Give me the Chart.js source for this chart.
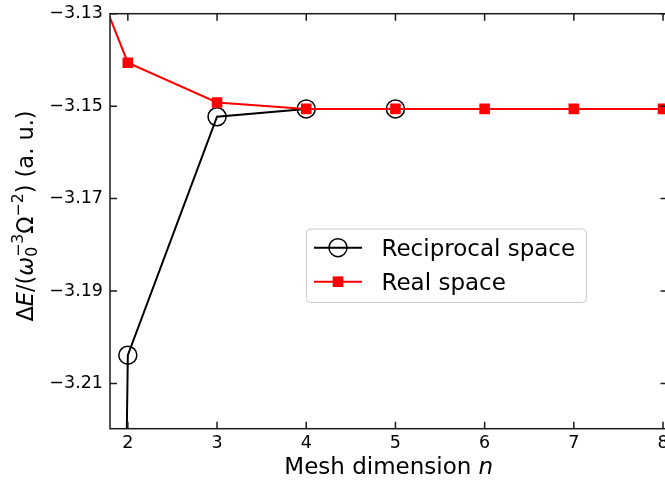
<!DOCTYPE html>
<html lang="en">
<head>
<meta charset="UTF-8" />
<title>Mesh convergence</title>
<script src="https://cdn.jsdelivr.net/npm/chart.js"></script>
<style>
	html, body {
		margin: 0;
		padding: 0;
		background: #fff;
		overflow: hidden;
	}
	#wrap {
		width: 680px;
		height: 481px;
	}
</style>
</head>
<body>
<div id="wrap"><canvas id="meshChart" width="680" height="481"></canvas></div>
<script>
// values
const meshN = [1, 2, 3, 4, 5, 6, 7, 8];
const reciprocalSpace = [-4.6, -3.2039, -3.1523, -3.1506, -3.1506];
const realSpace = [-3.092, -3.1406, -3.1492, -3.1506, -3.1506, -3.1506, -3.1506, -3.1506];
const xTicks = [2, 3, 4, 5, 6, 7, 8];
const yTicks = [-3.21, -3.19, -3.17, -3.15, -3.13];
const seriesNames = ["Reciprocal space", "Real space"];

const FONT = "'DejaVu Sans', sans-serif";
const INK = "#1a1a1a";

function toPoints(values) {
	return values.map((v, i) => ({ x: meshN[i], y: v }));
}

// y label with stacked sub/superscripts, drawn rotated
function drawYTitle(ctx, x, yc) {
	const big = `22.5px ${FONT}`;
	const bigIt = `italic 22.5px ${FONT}`;
	const small = `15.7px ${FONT}`;
	const parts = [
		{ t: "Δ", f: big },
		{ t: "E", f: bigIt },
		{ t: "/(", f: big },
		{ t: "ω", f: bigIt },
		{ stack: [{ t: "−3", dy: -10 }, { t: "0", dy: 4 }], f: small },
		{ t: "Ω", f: big },
		{ t: "−2", dy: -10, f: small },
		{ t: ") (a. u.)", f: big },
	];
	ctx.save();
	ctx.translate(x, yc);
	ctx.rotate(-Math.PI / 2);
	ctx.fillStyle = "#000";
	ctx.textBaseline = "alphabetic";
	ctx.textAlign = "left";
	let total = 0;
	parts.forEach((p) => {
		ctx.font = p.f;
		if (p.stack) {
			p.w = Math.max(...p.stack.map((s) => ctx.measureText(s.t).width));
		} else {
			p.w = ctx.measureText(p.t).width;
		}
		total += p.w;
	});
	let cx = -total / 2;
	parts.forEach((p) => {
		ctx.font = p.f;
		if (p.stack) {
			p.stack.forEach((s) => ctx.fillText(s.t, cx, s.dy));
		} else {
			ctx.fillText(p.t, cx, p.dy || 0);
		}
		cx += p.w;
	});
	ctx.restore();
}

function drawXTitle(ctx, xc, y) {
	ctx.save();
	ctx.fillStyle = "#000";
	ctx.textBaseline = "alphabetic";
	ctx.textAlign = "left";
	ctx.font = `23px ${FONT}`;
	const a = "Mesh dimension ";
	const wa = ctx.measureText(a).width;
	ctx.font = `italic 23px ${FONT}`;
	const wb = ctx.measureText("n").width;
	let x0 = xc - (wa + wb) / 2;
	ctx.font = `23px ${FONT}`;
	ctx.fillText(a, x0, y);
	ctx.font = `italic 23px ${FONT}`;
	ctx.fillText("n", x0 + wa, y);
	ctx.restore();
}

function drawMarker(ctx, ds, x, y) {
	ctx.save();
	ctx.strokeStyle = ds.pointBorderColor;
	ctx.fillStyle = ds.pointBackgroundColor;
	ctx.lineWidth = ds.pointBorderWidth;
	const r = ds.pointRadius;
	ctx.beginPath();
	if (ds.pointStyle === "rect") {
		const h = r * Math.SQRT1_2;
		ctx.rect(x - h, y - h, 2 * h, 2 * h);
	} else {
		ctx.arc(x, y, r, 0, Math.PI * 2);
	}
	ctx.fill();
	if (ds.pointBorderWidth > 0) ctx.stroke();
	ctx.restore();
}

const framePlugin = {
	id: "frame",
	afterDraw(chart) {
		const { ctx, chartArea: a, scales } = chart;
		const tl = 7;
		ctx.save();
		ctx.strokeStyle = INK;
		ctx.lineWidth = 1.5;
		ctx.strokeRect(a.left, a.top, a.right - a.left, a.bottom - a.top);
		ctx.beginPath();
		xTicks.forEach((v) => {
			const px = scales.x.getPixelForValue(v);
			ctx.moveTo(px, a.bottom);
			ctx.lineTo(px, a.bottom - tl);
			ctx.moveTo(px, a.top);
			ctx.lineTo(px, a.top + tl);
		});
		yTicks.forEach((v) => {
			const py = scales.y.getPixelForValue(v);
			ctx.moveTo(a.left, py);
			ctx.lineTo(a.left + tl, py);
			ctx.moveTo(a.right, py);
			ctx.lineTo(a.right - tl, py);
		});
		ctx.stroke();
		ctx.restore();

		drawXTitle(ctx, (a.left + a.right) / 2, 474);
		drawYTitle(ctx, 33, 216);

		// legend box
		const bx = 306.5, by = 229, bw = 280, bh = 73.5;
		ctx.save();
		ctx.beginPath();
		ctx.roundRect(bx, by, bw, bh, 4);
		ctx.fillStyle = "rgba(255,255,255,0.8)";
		ctx.fill();
		ctx.strokeStyle = "#cccccc";
		ctx.lineWidth = 1;
		ctx.stroke();
		chart.data.datasets.forEach((ds, i) => {
			const ry = by + 18.7 + i * 34;
			ctx.beginPath();
			ctx.strokeStyle = ds.borderColor;
			ctx.lineWidth = ds.borderWidth;
			ctx.moveTo(bx + 7.5, ry);
			ctx.lineTo(bx + 55.5, ry);
			ctx.stroke();
			drawMarker(ctx, ds, bx + 31.5, ry);
			ctx.fillStyle = "#000";
			ctx.font = `23px ${FONT}`;
			ctx.textBaseline = "alphabetic";
			ctx.textAlign = "left";
			ctx.fillText(ds.label, bx + 75, ry + 8);
		});
		ctx.restore();
	},
};

new Chart(document.getElementById("meshChart"), {
	type: "scatter",
	data: {
		datasets: [
			{
				label: seriesNames[0],
				data: toPoints(reciprocalSpace),
				showLine: true,
				borderColor: "#000000",
				borderWidth: 2,
				pointStyle: "circle",
				pointRadius: 9,
				pointBorderWidth: 1.5,
				pointBorderColor: "#000000",
				pointBackgroundColor: "rgba(0,0,0,0)",
				order: 1,
			},
			{
				label: seriesNames[1],
				data: toPoints(realSpace),
				showLine: true,
				borderColor: "#ff0000",
				borderWidth: 2,
				pointStyle: "rect",
				pointRadius: 7.5,
				pointBorderWidth: 0,
				pointBorderColor: "#ff0000",
				pointBackgroundColor: "#ff0000",
				order: 0,
			},
		],
	},
	options: {
		responsive: false,
		animation: false,
		layout: { padding: { top: 13.7, right: 12.5, left: 0, bottom: 0 } },
		plugins: {
			legend: { display: false },
			tooltip: { enabled: false },
		},
		scales: {
			x: {
				type: "linear",
				min: 1.8,
				max: 8.05,
				grid: { display: false, drawTicks: false },
				border: { display: false },
				afterBuildTicks: (axis) => {
					axis.ticks = xTicks.map((v) => ({ value: v }));
				},
				afterFit: (axis) => {
					axis.height = 52.3;
					axis.paddingLeft = 0;
					axis.paddingRight = 0;
				},
				ticks: {
					padding: 4,
					color: "#000",
					font: { family: FONT, size: 17.5 },
					maxRotation: 0,
					callback: (v) => String(v),
				},
			},
			y: {
				type: "linear",
				min: -3.2198,
				max: -3.13,
				grid: { display: false, drawTicks: false },
				border: { display: false },
				afterBuildTicks: (axis) => {
					axis.ticks = yTicks.map((v) => ({ value: v }));
				},
				afterFit: (axis) => {
					axis.width = 110;
					axis.paddingTop = 0;
					axis.paddingBottom = 0;
				},
				ticks: {
					padding: 7,
					color: "#000",
					font: { family: FONT, size: 17.5 },
					callback: (v) => "−" + Math.abs(v).toFixed(2),
				},
			},
		},
	},
	plugins: [framePlugin],
});
</script>
</body>
</html>
